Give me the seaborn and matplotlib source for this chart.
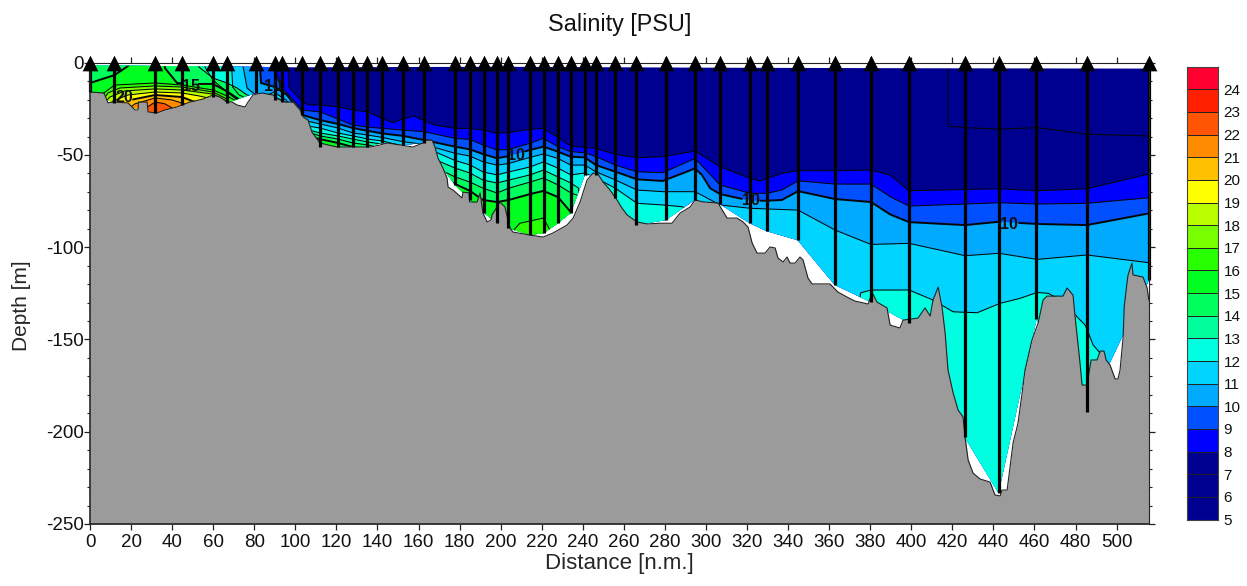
import numpy as np
import pandas as pd
import matplotlib
matplotlib.use("Agg")
import matplotlib.pyplot as plt
from matplotlib.patches import Polygon
from matplotlib.ticker import MultipleLocator
import seaborn as sns

# ---- data -------------------------------------------------------------
station_x = [0,11.7,31.7,44.8,59.9,66.7,80.9,90.1,93.5,103.3,112,120.8,128.1,134.9,142.2,152.5,162.7,177.8,185.1,191.9,198.2,203.6,214.3,221.1,227.9,234.2,241,246.4,255.6,265.8,280.4,294.5,306.7,321.3,329.6,344.7,362.7,380.2,398.7,426,442.5,461,485.4,515.7]
station_bottom = [15.9,21.8,27.3,22.9,18.6,21.8,16.4,20.2,21.3,28.3,45.7,45.7,45.7,45.7,43.5,44.6,43.5,66.3,74.4,81.4,87,89.6,93.4,92.3,87,81.4,60.9,60.9,73.3,88,85.3,74.4,76.6,87,91.3,96.2,120.4,129.7,141,202.9,233.2,139,189.4,118]
surface_x = [0,60,100,200,300,400,515.7]
surface_d = [1.5,2,2.5,2.2,2.7,3,3.2]

bathy_x = [0,6.8,8.8,11.2,18.5,21.9,23.4,23.6,27.8,28.3,32.6,36.5,42.4,48.7,55,59.9,63.3,66.7,69.2,71.6,75.5,77,79.4,83.8,89.1,91.6,95,98.9,102.3,103.8,106.2,108.1,112,120.3,128.1,136.4,141.3,144.7,157.3,162.2,163.2,166.6,168,169.5,171.9,173.9,174.4,176.8,181.2,181.7,184.6,184.9,188.5,190,191.4,193.4,195.3,195.8,199.7,202.1,203.6,204.6,206,214.3,220.7,225.5,232.3,235.3,238.7,242.1,245,247.4,249.9,253.3,256.7,259.1,261.6,266.4,271.3,277.6,283.5,287.4,292.3,294.7,298.6,305.9,307.9,310.3,315.1,318.1,320.5,322.5,324.9,328.8,331.2,333.7,335.1,337.6,339.5,341,343.4,345.8,347.3,349.7,351.7,360.4,364.3,368.7,372.6,379,380.9,383.3,388.2,389.7,394.5,396,403.3,406.7,409.2,410.6,413.1,415,416.5,417.9,420.4,422.8,425.2,426.2,427.7,430.1,433.5,438.4,440.8,443.3,444.2,446.7,449.6,452,454,455.4,458.8,461.8,464.2,466.1,473.9,475.9,478.8,479.8,482.2,483.2,485.6,487.6,490.5,492,493.9,494.9,496.8,499.3,500.7,501.7,503.2,503.7,505.1,505.6,507.5,508,512.9,514.9,515.7]
bathy_d = [15.9,16.4,21.8,21.3,21.8,25.6,25.6,21.3,21.3,26.7,27.3,25.6,24,21.3,19.7,17.5,18.6,21.3,21.3,22.9,24,21.3,17.5,16.4,17.5,19.7,21.3,21.3,25.6,29.4,31.1,37.6,43.5,45.7,45.7,45.7,44.6,43.5,45.7,43.5,41.9,41.9,45.7,51.7,57.1,62.5,67.4,69,73.3,70.1,70.6,75.5,75.5,70.6,81.5,86.3,85.3,82.5,75.5,78.2,85.3,89.6,91.8,93.4,94.5,92.3,88,84.2,75.5,63.6,59.8,60.3,64.7,69,74.4,78.8,82.5,86.3,87.4,87,87,81.5,78.2,74.4,75.5,76,79.8,84.2,84.2,86.3,89.1,97.7,103.2,103.2,99.9,100.4,105.9,108,105.3,108.6,108.6,105.3,106.9,116.7,119.9,119.9,124.3,127,129.2,130.8,124.3,129.7,132.9,142.2,143.8,139.5,138.4,132.9,137.3,128.6,121.6,132.5,146.5,166.6,179,188.2,192,202.9,215.3,222.4,225.6,227.3,234.3,234.8,231.6,231.6,206.1,195.3,179,166.6,150.3,141.1,128.6,126.5,126.5,122.1,126,137.8,162.8,174.7,174.7,161.1,161.1,156.3,156.3,161.1,163.8,171.4,171.4,166.6,148.7,132.5,119,115,108.6,115,116.2,122.1,128.6]

iso7_x = [417.9,417.9,426.2,442.8,461.3,485.6,515.7]
iso7_d = [3.6,34.3,35.2,36,35.2,38.7,39.7]

iso8_x = [0,95.9,96.4,96.9,103.8,107,112,120.8,128.1,135.4,142.2,147.4,152.5,157.5,162.7,168,177.8,185.1,191.4,198.2,204,214.3,220.8,227.9,234.2,241,246.4,256,266.4,279,294.7,306.9,321.5,326.3,329.8,337,344.9,362.9,380.4,389.7,398.9,426.2,442.8,461.3,485.6,515.7]
iso8_d = [-1,-1,1.8,13.2,21.8,22.9,22.9,24,25.6,26.7,30.2,32.5,30.5,28.9,31.4,33.8,35.6,35.6,36.5,38.3,37.8,36.1,35.6,40.5,45.2,45.9,46.4,49.7,51.5,50.9,47.9,56.4,62.7,64.1,62.7,60,58.5,58.5,58.2,60.9,69.4,68.7,68.3,69.4,68.3,60.3]

iso9_x = [0,89.6,90.1,92.5,98.9,103.3,112,120.8,128.1,135.4,142.2,152.5,162.7,177.8,185.1,191.4,198.2,204,214.3,220.8,227.9,234.2,241,246.4,256,266.4,279,294.7,306.9,321.5,329.8,337,344.9,362.9,380.4,389.7,398.9,426.2,442.8,461.3,485.6,515.7]
iso9_d = [-1,-1,1.8,12.1,20.2,25.6,26.7,30.5,33.8,34.9,35.6,36.5,37.4,41,41.6,44.6,47.3,47,43.7,41,45.5,48.2,48.8,50.9,55.5,59.1,59.6,51.9,66.3,70.8,70.8,69,64,65.8,65.8,72.6,77.7,76.6,75.9,76.6,76.2,73.2]

iso10_x = [0,82.3,82.8,83.3,90.1,96,103.3,112,120.8,128.1,135.4,142.2,152.5,162.7,177.8,185.1,191.4,198.2,204,214.3,220.8,227.9,234.2,241,246.4,256,266.4,279,294.7,298.1,302.1,306.9,321.5,329.8,337,344.9,362.9,380.4,389.7,398.9,426.2,442.8,461.3,485.6,515.7]
iso10_d = [-1,-1,2.3,11,13.2,17.5,28.3,31.1,33.2,35.4,37,38.3,39.7,41.9,45.5,47,49.5,51.8,50.6,47.3,45.5,48.2,51,51.3,55.5,59.1,63.2,64.1,57.3,60.9,68.1,71.2,74.8,74.8,74.4,69.6,73.9,75.5,82.2,86.4,88,86.2,87.4,88,81.7]

iso11_x = [0,74,74.5,76.5,79.4,83.8,89.6,95.4,103.3,112,120.8,128.1,135.4,142.2,152.5,162.7,177.8,185.1,191.4,198.2,204,214.3,220.8,227.9,234.2,241,246.4,256,266.4,279,294.7,306.9,321.5,344.9,362.9,380.4,398.9,419,426.2,442.8,461.3,485.6,515.7]
iso11_d = [-1,-1,1.8,13.7,16.4,19.1,15.9,20.2,31,33.2,35.4,38.1,39.2,40.5,42.8,44.3,49.1,50.6,53.7,55.5,54.6,51.3,49.5,51.9,55.5,55.5,59.1,63.6,69,69.9,69.9,77.1,78.9,79.9,90.7,98.5,97.9,102.8,104.6,103.3,106.6,104.2,108.4]

iso12_x = [0,68.7,69,69.5,72.6,78,90,96,103.3,112,120.8,128.1,135.4,142.2,152.5,162.7,177.8,185.1,191.4,198.2,204,214.3,220.8,227.9,234.2,241,246.4,256,266.4,279,288,294,303,362,373.9,375.4,380.4,398.9,410.6,420.4,432.1,443.3,453,461.3,466.7,475,480.8,484.7,486.1,488.6,492,497,515.7]
iso12_d = [-1,-1,2.3,13.2,17.5,20.2,18.6,21.8,33.8,35.4,38.1,39.7,41.4,42.4,45.1,45.7,53,55.4,59.2,60.8,59.2,56.5,53.8,57.1,60.8,59.8,62.5,68.1,76.2,77.1,78,80,300,300,135,124.7,123.2,123.2,128.6,135,135.5,130.4,127.7,124.5,125,130,137.8,142.2,146,153,157.4,190,190]

iso13_x = [0,55.5,56,59.9,66.7,73,90,97.4,103.3,112,120.8,128.1,135.4,142.2,152.5,162.7,177.8,185.1,191.4,198.2,204,214.3,220.8,227.9,234.2,238,242,515.7]
iso13_d = [-1,-1,2.3,9.4,15.9,21.3,20.2,24,35.4,38.1,39.7,41.4,43,44.1,47.3,50,57.1,59.8,63.6,65.2,63.6,60.8,58.2,61.9,65.2,68,300,300]

iso14_x = [0,52.6,53,59.9,66.7,71.6,76.5,90,103.3,112,120.8,128.1,135.4,142.2,152.5,162.7,177.8,185.1,191.4,198.2,204,214.3,220.8,227.9,234.2,238,242,515.7]
iso14_d = [-1,-1,2.3,8.3,11,13.7,17.5,21.8,36.5,39.7,41.4,43.5,44.6,46.2,50,53.8,61.9,64.7,68,70.6,68,64.7,62.5,66.2,70.6,72,300,300]

iso15_x = [0,12,18.5,21,36,36.5,42.4,48.7,59.9,66.7,73,90,103.3,112,120.8,128.1,135.4,142.2,152.5,162.7,177.8,185.1,191.4,198.2,204,214.3,220.8,227.9,234.2,237,515.7]
iso15_d = [11,6.7,1.8,-1,-1,2.9,11,11.5,11.5,15.5,20.2,22.9,39.2,41.4,43.5,45.7,47.3,49,52.7,58.2,65.7,69.5,74.4,75.5,74.4,71.2,69.5,72.8,81,300,300]

iso16_x = [0,6,12,31.7,44.8,59.9,66.7,72,90,205,205.5,209.4,220.8,223.2,226.6,228,515.7]
iso16_d = [17,17,12.1,11,12.1,14.8,18,21.3,300,300,91.8,87,84.2,89,96,300,300]

iso17_x = [0,8.8,14.6,31.7,44.8,59.9,66.7,70,515.7]
iso17_d = [30,16.4,13.7,12.6,13.2,15.9,19.7,30,300]
iso18_x = [0,9.7,17,31.7,44.8,59.9,66.7,70,515.7]
iso18_d = [30,18.6,15.3,14.2,14.8,17,20.8,30,300]
iso19_x = [0,11.2,18.5,31.7,44.8,53,60,66,70,515.7]
iso19_d = [35,20.8,17.5,15.9,16.4,18,19.7,21.3,40,300]
iso20_x = [0,13.1,21.9,31.7,44.8,51,56,515.7]
iso20_d = [35,21.8,19.7,17.5,18.6,21.3,30,300]
iso21_x = [0,21.9,31.7,40,46,52,515.7]
iso21_d = [40,22.3,19.1,20.2,22.3,40,300]
iso22_x = [0,28,31.7,36.5,40,45,515.7]
iso22_d = [40,24,21.3,22.3,24.5,40,300]

levels = list(range(5, 25))
level_labels = [str(v) for v in levels]
level_colors = sns.color_palette(["#000090","#000090","#000090","#0000ff","#0050ff","#00aaff","#00d4ff",
                                  "#00ffe0","#00ff9c","#00ff5c","#00ff20","#28ff00","#78ff00","#b9ff00",
                                  "#ffff00","#ffc000","#ff8c00","#ff5500","#ff2000","#ff0030"])
fill_isos = [(8,iso8_x,iso8_d),(9,iso9_x,iso9_d),(10,iso10_x,iso10_d),(11,iso11_x,iso11_d),(12,iso12_x,iso12_d),
             (13,iso13_x,iso13_d),(14,iso14_x,iso14_d),(15,iso15_x,iso15_d),(16,iso16_x,iso16_d),(17,iso17_x,iso17_d),
             (18,iso18_x,iso18_d),(19,iso19_x,iso19_d),(20,iso20_x,iso20_d),(21,iso21_x,iso21_d),(22,iso22_x,iso22_d)]
contour_labels = [("20",16.5,-19),("15",49,-12.8),("10",89,-12.8),("10",207.5,-50.2),("10",322,-74.5),("10",447.7,-87.5)]
# stretches of each labelled contour left open for its label
contour_gaps = {10: [(203,212),(317.5,326.5),(443,452.5)], 15: [(45,53)], 20: [(12.5,21)]}

# ---- style ------------------------------------------------------------
sns.set_theme(style="ticks")
plt.rcParams["font.family"] = ["Liberation Sans", "DejaVu Sans"]
plt.rcParams["axes.unicode_minus"] = False
W, H = 1247, 586
fig = plt.figure(figsize=(W/100, H/100), dpi=100)
ax = fig.add_axes([90/W, (H-524)/H, (1148.8-90)/W, (524-62.7)/H])
ax.set_xlim(0, 515.7)
ax.set_ylim(-250, 0)

st_x = np.array(station_x); st_b = -np.array(station_bottom)
hull_pts = list(zip(surface_x, -np.array(surface_d))) + list(zip(st_x[::-1], st_b[::-1]))
hull = Polygon(hull_pts, closed=True, facecolor=level_colors[0], edgecolor="none", zorder=1)
ax.add_patch(hull)

for lev, xs, ds in fill_isos:
    poly = ax.fill_between(xs, -np.array(ds), -400, color=level_colors[lev-5], linewidth=0, zorder=2)
    poly.set_clip_path(hull)


def segments(xs, ys, gaps):
    """Split a polyline so that the given x stretches stay undrawn."""
    xs = np.asarray(xs, float); ys = np.asarray(ys, float)
    out, start = [], xs[0]
    for g0, g1 in gaps + [(xs[-1], None)]:
        keep = (xs > start) & (xs < g0)
        out.append((np.r_[start, xs[keep], g0],
                    np.r_[np.interp(start, xs, ys), ys[keep], np.interp(g0, xs, ys)]))
        start = g1
    return out


all_isos = [(7, iso7_x, iso7_d)] + fill_isos
for lev, xs, ds in all_isos:
    ys = -np.array(ds)
    parts = segments(xs, ys, contour_gaps[lev]) if lev in contour_gaps else [(np.array(xs), ys)]
    for px, py in parts:
        n0 = len(ax.lines)
        sns.lineplot(x=px, y=py, ax=ax, color="#050505", estimator=None, sort=False,
                     linewidth=1.4 if lev % 5 == 0 else 0.75, zorder=3, legend=False)
        for ln in ax.lines[n0:]:
            ln.set_clip_path(hull)

# bathymetry
ax.fill_between(bathy_x, -np.array(bathy_d), -250, color="#9b9b9b", linewidth=0, zorder=4)
sns.lineplot(x=bathy_x, y=-np.array(bathy_d), ax=ax, color="#222222", estimator=None, sort=False,
             linewidth=0.8, zorder=5, legend=False)

# stations
ax.vlines(st_x, st_b, 0, color="black", linewidth=2.3, zorder=6, clip_on=False)
sns.scatterplot(x=st_x, y=np.zeros_like(st_x), ax=ax, marker="^", s=128, color="black", linewidth=0,
                zorder=8, clip_on=False, legend=False)

for t, x, y in contour_labels:
    ax.text(x, y, t, ha="center", va="center", fontsize=11.5, fontweight="bold", color="#101010", zorder=7)

# axes
ax.set_xlabel("Distance [n.m.]", fontsize=16, labelpad=1.5)
ax.set_ylabel("Depth [m]", fontsize=15)
ax.yaxis.set_label_coords(-(90-31)/(1148.8-90), (524-306)/(524-62.7))
ax.set_title("Salinity [PSU]", fontsize=16.8, pad=22.5, color="#111111")
ax.xaxis.set_major_locator(MultipleLocator(20))
ax.xaxis.set_minor_locator(MultipleLocator(10))
ax.yaxis.set_major_locator(MultipleLocator(50))
ax.yaxis.set_minor_locator(MultipleLocator(10))
ax.tick_params(axis="both", which="major", labelsize=13.5, length=4, width=0.9, color="#222222", pad=3,
               labelcolor="#111111", top=True, right=True)
ax.tick_params(axis="y", which="major", pad=0.5)
ax.tick_params(axis="y", which="minor", length=2.2, width=0.8, color="#222222", left=True, right=True)
ax.tick_params(axis="x", which="minor", length=1.5, width=0.7, color="#222222", direction="in", bottom=True, top=False)
for name, sp in ax.spines.items():
    sp.set_visible(True); sp.set_color("#222222"); sp.set_linewidth(1.2 if name in ("left","bottom") else 0.8)
    sp.set_zorder(6.5)

# colour key
cax = fig.add_axes([1186.7/W, (H-519.5)/H, (1218-1186.7)/W, (519.5-66.7)/H])
cax.bar(x=[0]*len(levels), height=[1]*len(levels), bottom=levels, width=1, align="edge",
        color=level_colors, edgecolor="#222222", linewidth=0.7)
cax.set_xlim(0, 1); cax.set_ylim(5, 25); cax.set_xticks([])
cax.set_yticks(levels, level_labels)
cax.yaxis.tick_right()
cax.tick_params(axis="y", length=0, labelsize=11, pad=4, labelcolor="#111111")
for sp in cax.spines.values():
    sp.set_color("#444444"); sp.set_linewidth(0.8)

fig.savefig("out.png", dpi=100)
